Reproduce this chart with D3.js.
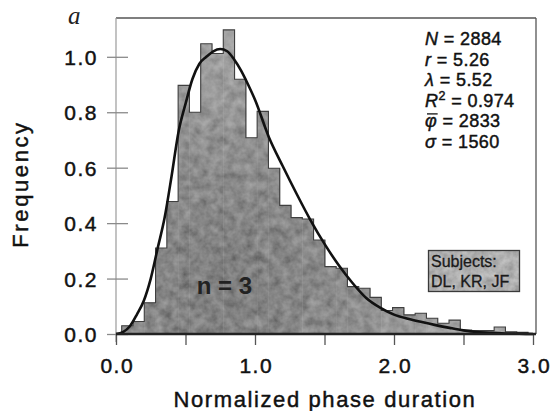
<!DOCTYPE html>
<html>
<head>
<meta charset="utf-8">
<script src="https://cdn.jsdelivr.net/npm/d3@7"></script>
<style>
  html, body { margin: 0; padding: 0; background: #fff; }
  svg { display: block; }
</style>
</head>
<body>
<svg id="chart" width="557" height="411"></svg>
<script>
// ---------- data ----------
const binStart = 0.041;
const binWidth = 0.0812;
const binHeights = [0.03, 0.045, 0.113, 0.31, 0.478, 0.897, 0.80, 1.047, 1.012, 1.097,
                    0.919, 0.708, 0.803, 0.598, 0.464, 0.42, 0.415, 0.339, 0.243, 0.237,
                    0.171, 0.165, 0.132, 0.085, 0.095, 0.069, 0.075, 0.057, 0.039, 0.05,
                    0.014, 0.012, 0.012, 0.025, 0.008, 0.006];

const curveX = [0, 0.05, 0.1, 0.15, 0.2, 0.25, 0.3, 0.35, 0.4, 0.45, 0.5, 0.55, 0.6, 0.65,
                0.7, 0.75, 0.8, 0.85, 0.9, 0.95, 1.0, 1.1, 1.2, 1.3, 1.4, 1.5, 1.6, 1.7,
                1.8, 1.9, 2.0, 2.1, 2.2, 2.3, 2.4, 2.5, 2.6, 2.7, 2.8, 2.9, 3.0];
const curveY = [0, 0.007, 0.028, 0.07, 0.12, 0.20, 0.31, 0.42, 0.57, 0.73, 0.83, 0.92, 0.975, 1.0,
                1.02, 1.028, 1.02, 0.99, 0.95, 0.90, 0.845, 0.71, 0.605, 0.505, 0.41, 0.325, 0.25, 0.185,
                0.13, 0.095, 0.07, 0.055, 0.043, 0.032, 0.022, 0.013, 0.007, 0.004, 0.002, 0.001, 0.0];

const yTicks = [0, 0.2, 0.4, 0.6, 0.8, 1.0];
const xTicksMajor = [0, 1, 2, 3];
const xTicksAll = [0, 0.5, 1, 1.5, 2, 2.5, 3];
const statsLines = [
  {v: "N", sup: "", bar: false, val: " = 2884"},
  {v: "r", sup: "", bar: false, val: " = 5.26"},
  {v: "λ", sup: "", bar: false, val: " = 5.52"},
  {v: "R", sup: "2", bar: false, val: " = 0.974"},
  {v: "φ", sup: "", bar: true, val: " = 2833"},
  {v: "σ", sup: "", bar: false, val: " = 1560"}
];
const subjectsLines = ["Subjects:", "DL, KR, JF"];
const panelLabel = "a";
const nLabel = "n = 3";

// ---------- layout ----------
const svg = d3.select("#chart");
const pLeft = 116, pRight = 533, pTop = 18, pBottom = 334;
const x = d3.scaleLinear().domain([0, 3]).range([pLeft, pRight]);
const y = d3.scaleLinear().domain([0, 1.14]).range([pBottom, pTop]);
const font = "'Liberation Sans', Arial, Helvetica, sans-serif";
const heavy = sel => sel.attr("stroke", "#111").attr("stroke-width", 0.45).attr("paint-order", "stroke");

const defs = svg.append("defs");
const rg = defs.append("radialGradient").attr("id", "barGrad")
  .attr("gradientUnits", "userSpaceOnUse").attr("cx", 225).attr("cy", 285).attr("r", 240);
rg.append("stop").attr("offset", "0%").attr("stop-color", "#5c5c5c");
rg.append("stop").attr("offset", "50%").attr("stop-color", "#767676");
rg.append("stop").attr("offset", "100%").attr("stop-color", "#989898");

function noiseFilter(id, freq, seed, alpha) {
  const f = defs.append("filter").attr("id", id)
    .attr("x", 0).attr("y", 0).attr("width", "100%").attr("height", "100%");
  f.append("feTurbulence").attr("type", "fractalNoise").attr("baseFrequency", freq)
    .attr("numOctaves", 3).attr("seed", seed).attr("result", "noise");
  f.append("feColorMatrix").attr("in", "noise").attr("type", "matrix")
    .attr("values", `1.1 0 0 0 -0.05  1.1 0 0 0 -0.05  1.1 0 0 0 -0.05  0 0 0 0 ${alpha}`).attr("result", "gray");
  f.append("feComposite").attr("in", "gray").attr("in2", "SourceAlpha").attr("operator", "in").attr("result", "grayIn");
  const m = f.append("feMerge");
  m.append("feMergeNode").attr("in", "SourceGraphic");
  m.append("feMergeNode").attr("in", "grayIn");
}
noiseFilter("tex", "0.11", 7, 0.26);
noiseFilter("tex2", "0.14", 2, 0.3);

// ---------- bars ----------
const bins = binHeights.map((h, i) => ({x0: binStart + i * binWidth, x1: binStart + (i + 1) * binWidth, h}));

svg.append("g").attr("filter", "url(#tex)")
  .selectAll("rect").data(bins).join("rect")
  .attr("x", d => x(d.x0)).attr("width", d => x(d.x1) - x(d.x0) + 0.4)
  .attr("y", d => y(d.h)).attr("height", d => y(0) - y(d.h))
  .attr("fill", "url(#barGrad)");

// outline as a step path
const stepPts = [];
bins.forEach(d => { stepPts.push([d.x0, d.h]); stepPts.push([d.x1, d.h]); });
const outline = d3.line().x(d => x(d[0])).y(d => y(d[1]));
svg.append("path")
  .attr("d", outline([[bins[0].x0, 0], ...stepPts, [bins[bins.length - 1].x1, 0]]))
  .attr("fill", "none").attr("stroke", "#3f3f3f").attr("stroke-width", 1.1);

// ---------- frame & axes ----------
svg.append("line").attr("x1", x(0)).attr("x2", x(3) + 3).attr("y1", y(1.14)).attr("y2", y(1.14))
  .attr("stroke", "#555").attr("stroke-width", 1.6);
svg.append("line").attr("x1", x(3) + 3).attr("x2", x(3) + 3).attr("y1", y(1.14)).attr("y2", y(0))
  .attr("stroke", "#555").attr("stroke-width", 1.3);
svg.append("line").attr("x1", x(0)).attr("x2", x(0)).attr("y1", y(1.14)).attr("y2", y(0) + 8)
  .attr("stroke", "#9a9a9a").attr("stroke-width", 1.2);

// y ticks
const yAxis = d3.axisLeft(y).tickValues(yTicks).tickFormat(d3.format(".1f")).tickSizeInner(0).tickSizeOuter(0).tickPadding(0);
const gy = svg.append("g").attr("transform", `translate(${pLeft},0)`).call(yAxis);
gy.select(".domain").remove();
gy.selectAll(".tick line").attr("x1", -9).attr("x2", 12).attr("stroke", "#8a8a8a").attr("stroke-width", 1.3);
gy.selectAll(".tick text").attr("x", -18).attr("dy", "0.36em")
  .attr("font-family", font).attr("font-size", 21).attr("letter-spacing", "1.5px").attr("fill", "#111").call(heavy);

// x ticks
const xAxisMinor = d3.axisBottom(x).tickValues(xTicksAll).tickFormat("").tickSizeInner(11).tickSizeOuter(0);
const gx = svg.append("g").attr("transform", `translate(0,${pBottom})`).call(xAxisMinor);
gx.select(".domain").remove();
gx.selectAll(".tick line").attr("stroke", "#555").attr("stroke-width", 1.3);
const xAxisMajor = d3.axisBottom(x).tickValues(xTicksMajor).tickFormat(d3.format(".1f")).tickSize(0).tickPadding(24);
const gx2 = svg.append("g").attr("transform", `translate(0,${pBottom})`).call(xAxisMajor);
gx2.select(".domain").remove();
gx2.selectAll(".tick text").attr("font-family", font).attr("font-size", 21).attr("letter-spacing", "1.5px")
  .attr("fill", "#111").attr("dx", "0.75px").call(heavy);

// ---------- fitted curve ----------
const curvePts = curveX.map((cx, i) => [cx, curveY[i]]);
svg.append("path")
  .attr("d", d3.line().x(d => x(d[0])).y(d => y(d[1])).curve(d3.curveMonotoneX)(curvePts))
  .attr("fill", "none").attr("stroke", "#111").attr("stroke-width", 2.6);

// baseline (dark)
svg.append("line").attr("x1", x(0)).attr("x2", x(3) + 3).attr("y1", y(0)).attr("y2", y(0))
  .attr("stroke", "#222").attr("stroke-width", 2.4);

// ---------- labels ----------
svg.append("text").attr("x", 68).attr("y", 23.5).text(panelLabel)
  .attr("font-family", "'Liberation Serif', 'Times New Roman', serif").attr("font-style", "italic")
  .attr("font-size", 25).attr("fill", "#222");

svg.append("text").attr("transform", "translate(28,184) rotate(-90)")
  .attr("text-anchor", "middle").attr("font-family", font).attr("font-size", 22)
  .attr("letter-spacing", "2.6px").attr("fill", "#111").text("Frequency").call(heavy);

svg.append("text").attr("x", 325).attr("y", 407)
  .attr("text-anchor", "middle").attr("font-family", font).attr("font-size", 22)
  .attr("letter-spacing", "1.6px").attr("fill", "#111").text("Normalized phase duration").call(heavy);

// n = 3
svg.append("text").attr("x", x(0.78)).attr("y", y(0.145)).attr("text-anchor", "middle")
  .attr("font-family", font).attr("font-weight", "bold").attr("font-size", 24)
  .attr("fill", "#222").text(nLabel);

// stats
const st = svg.append("g").attr("font-family", font).attr("font-size", 18).attr("fill", "#111");
statsLines.forEach((l, i) => {
  const t = st.append("text").attr("x", 425).attr("y", 45 + i * 20.6).attr("letter-spacing", "0.4px").call(heavy);
  t.append("tspan").attr("font-style", "italic").text(l.v);
  if (l.sup) t.append("tspan").attr("font-size", 12.5).attr("dy", -7).text(l.sup);
  t.append("tspan").attr("dy", l.sup ? 7 : 0).text(l.val);
  if (l.bar) {
    const ext = t.node().getExtentOfChar(0);
    st.append("line").attr("x1", ext.x + 2).attr("x2", ext.x + ext.width + 0.5)
      .attr("y1", ext.y + 2.5).attr("y2", ext.y + 2.5)
      .attr("stroke", "#111").attr("stroke-width", 1.3);
  }
});

// subjects box
svg.append("rect").attr("x", 428.5).attr("y", 250.5).attr("width", 91).attr("height", 41)
  .attr("fill", "#ababab").attr("filter", "url(#tex2)");
svg.append("rect").attr("x", 428.5).attr("y", 250.5).attr("width", 91).attr("height", 41)
  .attr("fill", "none").attr("stroke", "#3a3a3a").attr("stroke-width", 1.3);
subjectsLines.forEach((s, i) => {
  svg.append("text").attr("x", 431).attr("y", 267 + i * 20).attr("font-family", font)
    .attr("font-size", 16).attr("fill", "#1a1a1a").text(s)
    .attr("stroke", "#1a1a1a").attr("stroke-width", 0.3);
});
</script>
</body>
</html>
